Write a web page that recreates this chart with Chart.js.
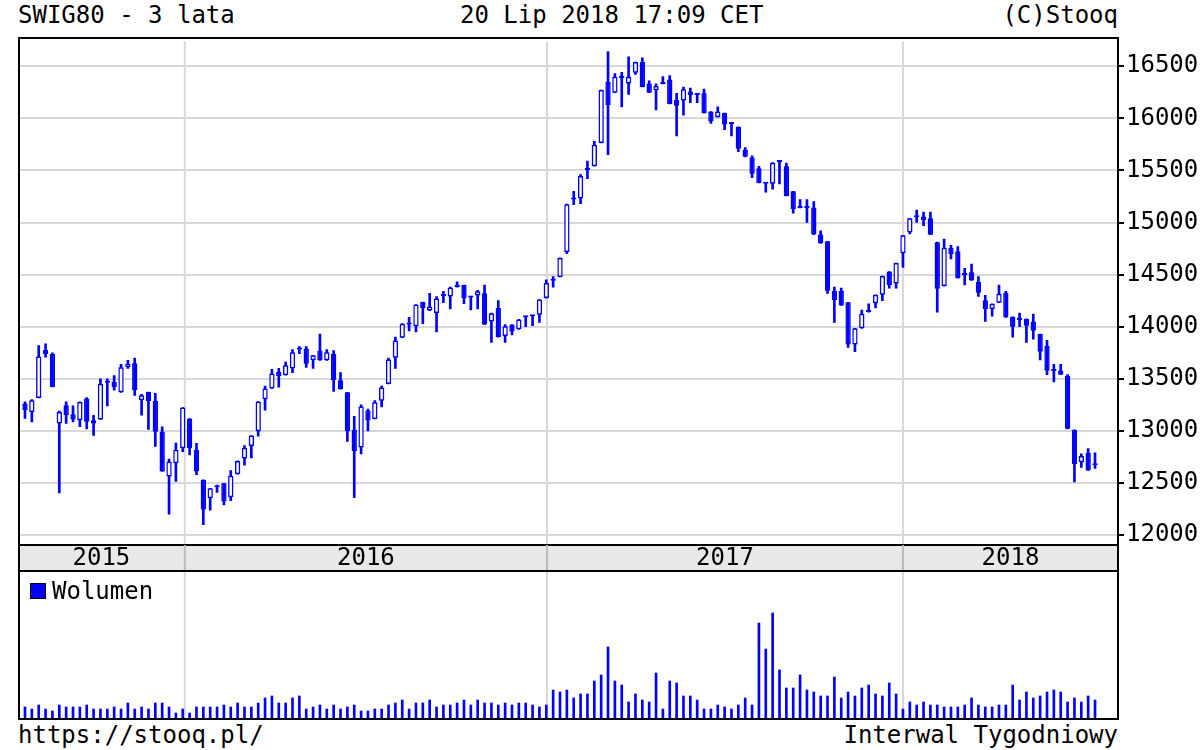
<!DOCTYPE html>
<html>
<head>
<meta charset="utf-8">
<script src="https://cdn.jsdelivr.net/npm/chart.js@4/dist/chart.umd.min.js"></script>
<style>
  body { margin: 0; background: #fff; font-family: 'DejaVu Sans Mono', monospace; }
  #wrap { position: relative; width: 1200px; height: 750px; }
  .txt { position: absolute; font-size: 24px; line-height: 28px; color: #000; white-space: nowrap; }
  .box { position: absolute; border: 2px solid #000; box-sizing: border-box; pointer-events: none; }
  #priceBox { position: absolute; left: 18px; top: 25px; width: 1182px; height: 545px; }
  #volBox { position: absolute; left: 18px; top: 572px; width: 1100px; height: 146px; }
</style>
</head>
<body>
<div id="wrap">
  <div class="txt" style="left:18px; top:1px;">SWIG80 - 3 lata</div>
  <div class="txt" style="left:460px; top:1px;">20 Lip 2018 17:09 CET</div>
  <div class="txt" style="right:82px; top:1px;">(C)Stooq</div>

  <div id="priceBox"><canvas id="priceChart"></canvas></div>
  <div class="box" style="left:18px; top:37px; width:1101px; height:535px;"></div>

  <div id="volBox"><canvas id="volChart"></canvas></div>
  <div class="box" style="left:18px; top:570px; width:1101px; height:150px;"></div>
  <div class="txt" style="left:30px; top:577px;"><span style="display:inline-block;width:14px;height:14px;background:#0000ff;border:1px solid #000;margin-right:6px;"></span>Wolumen</div>

  <div class="txt" style="left:18px; top:721px;">https://stooq.pl/</div>
  <div class="txt" style="right:82px; top:721px;">Interwal Tygodniowy</div>
</div>
<script>
const open  = [13262,13182,13316,13777,13739,13071,13246,13160,13103,13310,13103,13110,13463,13470,13370,13612,13650,13294,13373,13287,12992,12563,12690,12833,13119,12817,12531,12354,12460,12497,12364,12585,12734,12855,12997,13304,13408,13566,13535,13598,13800,13790,13677,13772,13677,13740,13487,13370,13012,12840,13195,13115,13290,13450,13703,13894,14020,14005,14237,14155,14132,14295,14290,14380,14400,14290,14300,14320,14050,14180,13910,14020,13975,14090,14100,14115,14275,14440,14478,14716,15220,15230,15505,15540,15763,16351,16246,16405,16335,16436,16540,16335,16270,16330,16373,16176,16170,16256,16224,16240,16065,16010,16050,15950,15918,15700,15624,15520,15375,15373,15580,15540,15300,15145,15145,15145,14884,14820,14345,14345,14235,13828,13984,14140,14225,14307,14530,14414,14705,14905,15050,15057,15040,14811,14390,14758,14725,14500,14522,14430,14255,14170,14230,14327,14095,14070,14075,14050,13930,13815,13580,13580,13530,13010,12700,12790,12680];
const high  = [13278,13300,13819,13835,13750,13190,13280,13240,13278,13320,13150,13500,13500,13530,13640,13677,13700,13350,13373,13360,13040,12730,12882,13224,13119,12880,12531,12449,12480,12497,12620,12712,12860,12956,13281,13430,13590,13600,13660,13780,13810,13810,13725,13930,13780,13770,13560,13370,13140,13250,13210,13290,13430,13700,13900,14030,14090,14212,14237,14320,14290,14340,14380,14430,14400,14290,14350,14400,14130,14250,14020,14020,14070,14100,14110,14260,14450,14480,14660,15176,15300,15460,15590,15780,16271,16640,16430,16440,16590,16540,16580,16360,16330,16400,16410,16240,16300,16290,16230,16280,16065,16110,16050,15950,15918,15720,15640,15540,15380,15574,15585,15570,15300,15220,15220,15200,14920,14820,14380,14370,14235,13984,14160,14220,14307,14486,14530,14611,14878,15041,15120,15100,15100,14811,14840,14780,14770,14560,14600,14480,14300,14220,14400,14340,14095,14130,14075,14120,13930,13870,13640,13640,13540,13010,12780,12830,12790];
const low   = [13119,13087,13316,13707,13421,12404,13071,13087,13040,13020,12957,13110,13240,13390,13370,13600,13340,13150,13015,12850,12610,12200,12515,12800,12770,12580,12100,12240,12410,12290,12330,12585,12670,12740,12950,13200,13408,13420,13535,13560,13740,13610,13600,13677,13677,13380,13400,12900,12360,12780,13000,13115,13230,13450,13600,13894,13960,13950,14030,14155,13950,14230,14170,14380,14220,14160,14170,14020,13850,13900,13850,13920,13975,14000,14010,14040,14275,14380,14478,14700,15170,15180,15420,15540,15763,15650,16246,16110,16230,16420,16300,16246,16080,16330,16138,15830,16030,16150,16150,16050,15950,16010,15890,15830,15680,15630,15430,15380,15290,15320,15370,15254,15090,15140,15000,14884,14800,14320,14040,14204,13800,13760,13984,14140,14180,14250,14370,14370,14570,14890,15000,14970,14883,14140,14390,14650,14465,14400,14443,14290,14050,14100,14230,14088,13900,14000,13850,13880,13680,13540,13470,13540,13020,12510,12650,12620,12640];
const close = [13200,13294,13714,13739,13421,13182,13150,13110,13278,13087,13071,13453,13475,13421,13612,13644,13390,13342,13287,12992,12610,12706,12818,13224,12833,12610,12245,12449,12470,12322,12570,12712,12838,12956,13281,13408,13550,13525,13630,13756,13780,13645,13725,13677,13756,13487,13400,12997,12807,13234,13100,13275,13417,13685,13868,14028,14040,14212,14180,14195,14270,14305,14377,14390,14275,14280,14340,14020,14130,13900,14005,13955,14070,14100,14110,14260,14420,14455,14660,15176,15225,15446,15510,15747,16271,16128,16398,16385,16398,16540,16300,16246,16310,16335,16138,16120,16278,16224,16230,16050,15970,16065,15940,15945,15708,15630,15467,15380,15373,15574,15585,15254,15128,15140,15140,14884,14800,14345,14257,14204,13828,13984,14125,14145,14307,14486,14400,14611,14878,15041,15063,15025,14883,14365,14758,14695,14465,14497,14443,14327,14170,14220,14317,14088,14000,14065,14010,13960,13760,13578,13575,13540,13020,12680,12760,12620,12670];
const volume = [11,9,13,9,7,13,11,11,11,13,9,9,9,11,9,15,9,11,9,15,15,11,5,9,5,11,11,11,11,13,11,15,11,11,15,20,22,15,15,20,22,9,11,13,9,13,9,11,13,7,7,9,9,13,15,18,9,15,15,18,11,13,13,15,18,13,18,15,15,13,15,13,15,15,13,11,
  13,28,26,28,20,24,24,37,43,71,37,33,16,24,18,16,45,9,37,35,22,22,18,9,9,13,11,9,13,20,13,95,69,105,48,30,30,43,28,26,22,22,41,20,26,22,30,33,24,22,35,24,9,16,13,16,13,13,11,11,11,13,20,13,11,11,13,13,33,18,26,20,22,26,28,26,16,20,16,22,18];
const priceTicks = [12000,12500,13000,13500,14000,14500,15000,15500,16000,16500];
const years = ['2015','2016','2017','2018'];
const yearBreaks = [23.3, 76.1, 128.0];  // week index where a new year starts

const BLUE = '#0000ff';
const FONT = "'DejaVu Sans Mono', monospace";
const xScale = { type: 'linear', display: false, offset: false, min: -1.02, max: 159.35 };

const yearLines = {
    id: 'yearLines',
    beforeDatasetsDraw(chart) {
        const { ctx, chartArea: a, scales: { x } } = chart;
        ctx.save();
        ctx.strokeStyle = '#d8d8d8';
        ctx.lineWidth = 2;
        for (const b of yearBreaks) {
            const px = x.getPixelForValue(b);
            ctx.beginPath();
            ctx.moveTo(px, a.top);
            ctx.lineTo(px, a.bottom);
            ctx.stroke();
        }
        ctx.restore();
    }
};

const yearBand = {
    id: 'yearBand',
    afterDraw(chart) {
        const { ctx, chartArea: a, scales: { x } } = chart;
        const top = a.bottom, h = 25;
        ctx.save();
        ctx.fillStyle = '#e8e8e8';
        ctx.fillRect(a.left, top, a.right - a.left, h);
        ctx.strokeStyle = '#000';
        ctx.lineWidth = 2;
        ctx.beginPath();
        ctx.moveTo(a.left, top); ctx.lineTo(a.right, top);
        ctx.stroke();
        ctx.strokeStyle = '#bbb';
        const edges = [a.left, ...yearBreaks.map(b => x.getPixelForValue(b)), a.right];
        ctx.fillStyle = '#000';
        ctx.font = '24px ' + FONT;
        ctx.textAlign = 'center';
        ctx.textBaseline = 'middle';
        years.forEach((y, i) => {
            ctx.fillText(y, (edges[i] + edges[i + 1]) / 2, top + h / 2 + 1);
        });
        for (let i = 1; i < edges.length - 1; i++) {
            ctx.beginPath();
            ctx.moveTo(edges[i], top); ctx.lineTo(edges[i], top + h);
            ctx.stroke();
        }
        ctx.restore();
    }
};

const bodyColors = open.map((o, i) => close[i] < o ? BLUE : '#ffffff');

new Chart(document.getElementById('priceChart'), {
    type: 'bar',
    data: {
        datasets: [
            {
                label: 'body',
                data: open.map((o, i) => ({ x: i, y: [o, close[i]] })),
                backgroundColor: bodyColors,
                borderColor: BLUE,
                borderWidth: 1.5,
                borderSkipped: false,
                minBarLength: 2,
                barPercentage: 0.78,
                categoryPercentage: 1,
                grouped: false,
                order: 1
            },
            {
                label: 'wick',
                data: low.map((l, i) => ({ x: i, y: [l, high[i]] })),
                backgroundColor: BLUE,
                barThickness: 2,
                grouped: false,
                order: 2
            }
        ]
    },
    options: {
        animation: false,
        responsive: true,
        maintainAspectRatio: false,
        layout: { padding: { bottom: 25 } },
        plugins: { legend: { display: false }, tooltip: { enabled: false } },
        scales: {
            x: xScale,
            y: {
                position: 'right',
                min: 11905,
                max: 16738,
                afterBuildTicks: s => { s.ticks = priceTicks.map(v => ({ value: v })); },
                afterFit: s => { s.width = 82; },
                border: { display: false },
                grid: { color: '#d8d8d8', lineWidth: 2, tickColor: '#000', tickLength: 6 },
                ticks: {
                    color: '#000',
                    font: { family: FONT, size: 24 },
                    padding: 2,
                    callback: v => String(v)
                }
            }
        }
    },
    plugins: [yearLines, yearBand]
});

new Chart(document.getElementById('volChart'), {
    type: 'bar',
    data: {
        datasets: [{
            label: 'Wolumen',
            data: volume.map((v, i) => ({ x: i, y: v })),
            backgroundColor: BLUE,
            barThickness: 2
        }]
    },
    options: {
        animation: false,
        responsive: true,
        maintainAspectRatio: false,
        plugins: { legend: { display: false }, tooltip: { enabled: false } },
        scales: {
            x: xScale,
            y: { display: false, min: 0, max: 146 }
        }
    },
    plugins: [yearLines]
});
</script>
</body>
</html>
